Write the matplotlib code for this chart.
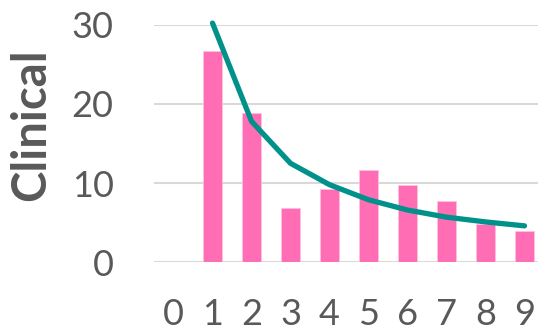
import matplotlib
matplotlib.use("Agg")
import matplotlib.pyplot as plt

# Clinical counts per category and the fitted decay curve
categories = [1, 2, 3, 4, 5, 6, 7, 8, 9]
bar_values = [26.7, 18.9, 6.9, 9.2, 11.6, 9.7, 7.7, 4.8, 4.0]
curve_values = [30.2, 17.8, 12.5, 9.8, 7.9, 6.6, 5.7, 5.1, 4.6]
x_ticks = [0, 1, 2, 3, 4, 5, 6, 7, 8, 9]
y_ticks = [0, 10, 20, 30]

text_color = "#595959"
plt.rcParams["font.family"] = ["Lato", "DejaVu Sans"]

fig = plt.figure(figsize=(5.38, 3.34), dpi=100)
# axes extend a bit past the right edge of the figure
ax = fig.add_axes([154 / 538, (334 - 262.3) / 334, 390 / 538, (262.3 - 24.7) / 334])

ax.bar(categories, bar_values, width=0.5, color="#FF6EB4", edgecolor="#FFC0DD",
       linewidth=0.6, zorder=2)
ax.plot(categories, curve_values, color="#00918A", linewidth=3.8,
        solid_capstyle="round", solid_joinstyle="round", zorder=3, clip_on=False)

ax.set_xlim(-0.5, 9.5)
ax.set_ylim(0, 30)
ax.set_xticks(x_ticks)
ax.set_yticks(y_ticks)
ax.yaxis.grid(True, color="#D9D9D9", linewidth=1.5, zorder=0)
ax.set_axisbelow(True)
for s in ax.spines.values():
    s.set_visible(False)
ax.tick_params(axis="both", length=0, colors=text_color, labelsize=26)
ax.tick_params(axis="x", pad=26)
ax.tick_params(axis="y", pad=29)

fig.text(31 / 538, 1 - 124.5 / 334, "Clinical", rotation=90, ha="center", va="center",
         fontsize=34, fontweight="bold", color=text_color)

fig.savefig("out.png", dpi=100)
